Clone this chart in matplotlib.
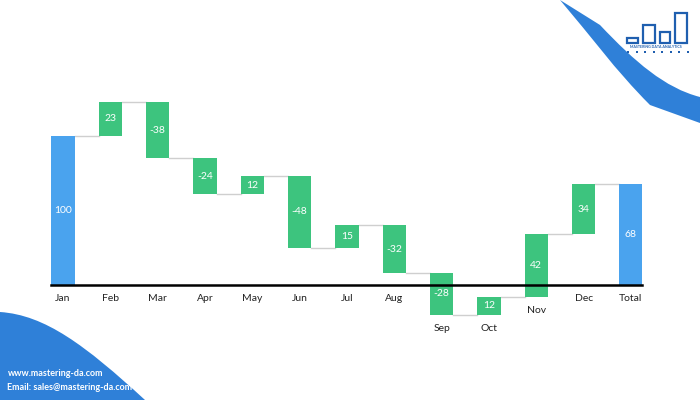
import matplotlib.pyplot as plt
from matplotlib.patches import Polygon, Rectangle, PathPatch
from matplotlib.path import Path

months = ['Jan', 'Feb', 'Mar', 'Apr', 'May', 'Jun', 'Jul', 'Aug', 'Sep', 'Oct', 'Nov', 'Dec', 'Total']
changes = [100, 23, -38, -24, 12, -48, 15, -32, -28, 12, 42, 34]

green = '#3dc47e'
blue = '#4aa3ee'
swoosh = '#2f80d8'

plt.rcParams['font.family'] = ['Lato', 'DejaVu Sans']
fig = plt.figure(figsize=(7, 4), dpi=100)
ax = fig.add_axes([0, 0, 1, 1])
ax.set_xlim(-1.331, 13.46)
ax.set_ylim(-77.2, 191.3)
ax.axis('off')

w = 0.49
bottoms, tops = [], []
level = 0
for i, c in enumerate(changes):
    if i == 0:
        b, t = 0, c
    else:
        b, t = min(level, level + c), max(level, level + c)
    level += c
    bottoms.append(b)
    tops.append(t)
total = level
bottoms.append(0)
tops.append(total)

for i, m in enumerate(months):
    col = blue if i in (0, len(months) - 1) else green
    ax.bar(i, tops[i] - bottoms[i], bottom=bottoms[i], width=w, color=col, zorder=2)
    val = changes[i] if i < len(changes) else total
    ax.text(i, (tops[i] + bottoms[i]) / 2, str(val), color='white', fontsize=7.5,
            ha='center', va='center', zorder=3)
    ax.text(i, min(bottoms[i], 0) - 9, m, color='#222222', fontsize=7.5,
            ha='center', va='center')

# connectors
level = 0
for i, c in enumerate(changes):
    level += c
    ax.plot([i + w / 2, i + 1 - w / 2], [level, level], color='#cfcfcf', lw=1, zorder=1)

ax.plot([-w / 2, 12 + w / 2], [0, 0], color='black', lw=1.8, zorder=4)

# decorations in pixel coordinates
def px(x, y):
    return (x / 700, 1 - y / 400)

verts = [px(560, 0), px(590, 35), px(615, 70), px(650, 105), px(700, 123),
         px(700, 97), px(665, 88), px(635, 62), px(600, 25), px(573, 0)]
codes = [Path.MOVETO, Path.CURVE4, Path.CURVE4, Path.CURVE4, Path.LINETO,
         Path.LINETO, Path.CURVE4, Path.CURVE4, Path.CURVE4, Path.CLOSEPOLY]
fig.patches.append(PathPatch(Path(verts, codes), facecolor=swoosh, edgecolor='none',
                             transform=fig.transFigure))

verts2 = [px(0, 312), px(45, 315), px(85, 345), px(145, 400), px(0, 400), px(0, 312)]
codes2 = [Path.MOVETO, Path.CURVE4, Path.CURVE4, Path.CURVE4, Path.LINETO, Path.CLOSEPOLY]
fig.patches.append(PathPatch(Path(verts2, codes2), facecolor=swoosh, edgecolor='none',
                             transform=fig.transFigure))

fig.text(*px(8, 373), 'www.mastering-da.com', color='white', fontsize=6.5,
         fontweight='bold', va='center')
fig.text(*px(7, 387), 'Email: sales@mastering-da.com', color='white', fontsize=6.5,
         fontweight='bold', va='center')

# logo
logo = '#1f5faf'
for x0, y0, x1 in [(627, 38, 638), (643, 25, 655), (660, 32, 670), (675, 13, 687)]:
    fig.patches.append(Rectangle(px(x0, 43), (x1 - x0) / 700, (43 - y0) / 400,
                                 facecolor='none', edgecolor=logo, lw=1.6,
                                 transform=fig.transFigure))
fig.text(*px(656, 47), 'MASTERING DATA ANALYTICS', color=logo, fontsize=2.6,
         fontweight='bold', ha='center', va='center')
for k in range(8):
    fig.patches.append(Rectangle(px(627 + k * 8.5, 53), 2 / 700, 2 / 400,
                                 facecolor=logo, edgecolor='none', transform=fig.transFigure))

fig.savefig('out.png', dpi=100)
